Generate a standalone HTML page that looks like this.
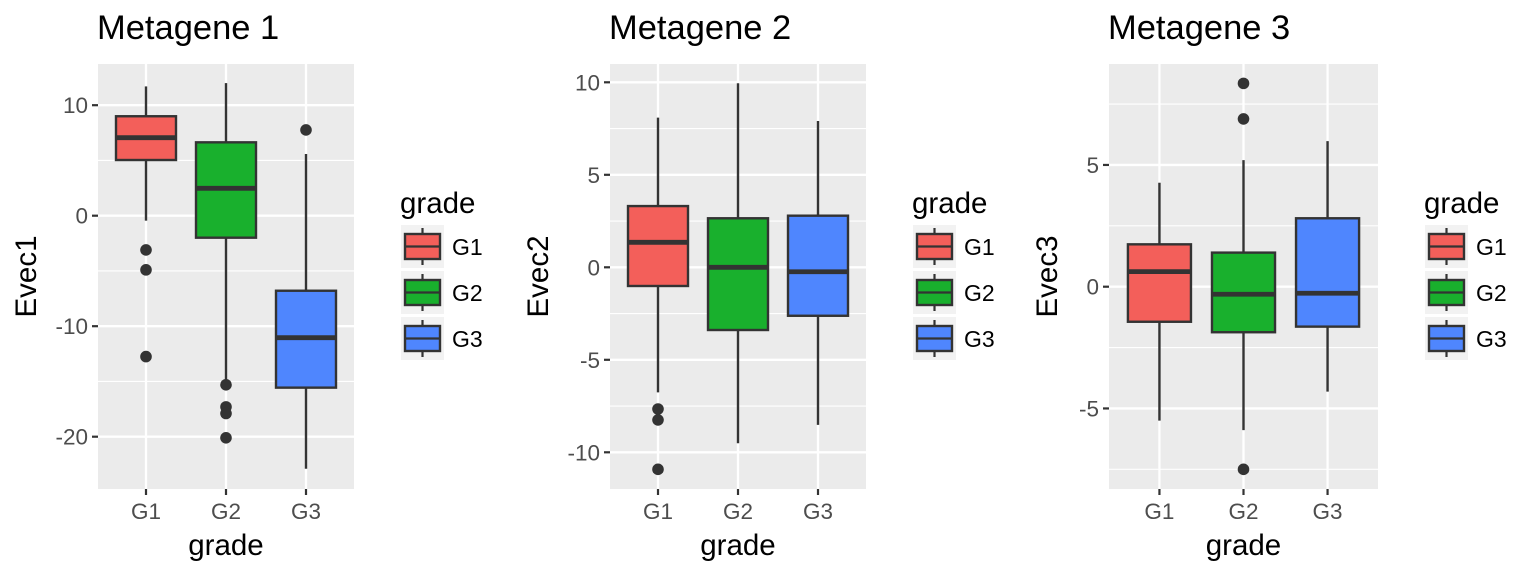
<!DOCTYPE html>
<html><head><meta charset="utf-8"><style>
html,body{margin:0;padding:0;background:#fff;}
svg{display:block;font-family:"Liberation Sans",Arial,sans-serif;}
</style></head><body>
<svg id="chart" width="1536" height="576" viewBox="0 0 1536 576" xmlns="http://www.w3.org/2000/svg"></svg>
<script>
const categories = ["G1","G2","G3"];
const boxColors = ["#f35f5a","#19b02d","#4f86fe"];
// Metagene 1: [lowWhisker, Q1, median, Q3, highWhisker]
const stats1 = [[-0.45,5.04,7.06,9.0,11.7],[-14.9,-1.99,2.48,6.64,12.0],[-22.9,-15.56,-11.04,-6.79,5.58]];
const outliers1 = [[-3.1,-4.9,-12.75],[-15.3,-17.3,-17.9,-20.1],[7.76]];
const stats2 = [[-6.76,-1.01,1.35,3.31,8.09],[-9.51,-3.39,0,2.65,9.95],[-8.52,-2.62,-0.24,2.79,7.91]];
const outliers2 = [[-7.66,-8.25,-10.92],[],[]];
const stats3 = [[-5.5,-1.44,0.62,1.74,4.27],[-5.89,-1.87,-0.31,1.4,5.2],[-4.31,-1.64,-0.27,2.81,5.98]];
const outliers3 = [[],[8.35,6.89,-7.5],[]];
const ticks1 = [10,0,-10,-20], minor1=[5,-5,-15];
const ticks2 = [10,5,0,-5,-10], minor2=[7.5,2.5,-2.5,-7.5];
const ticks3 = [5,0,-5], minor3=[7.5,2.5,-2.5,-7.5];

const NS="http://www.w3.org/2000/svg";
const svg=document.getElementById('chart');
function mk(tag,attrs,parent,txt){const e=document.createElementNS(NS,tag);for(const k in attrs)e.setAttribute(k,attrs[k]);if(txt!==undefined)e.textContent=txt;(parent||svg).appendChild(e);return e;}

function panel(cfg){
  const g=mk('g',{});
  
  
  const {x0,x1,y0,y1}=cfg;
  const ys=v=>cfg.zeroY - v*cfg.ppu;
  const step=(x1-x0)/3.2;
  const xs=i=>x0+step*(i+0.6);
  const bg=mk('rect',{x:x0,y:y0,width:x1-x0,height:y1-y0,fill:'#ebebeb'},g);
  
  
  cfg.minor.forEach(v=>{const l=mk('line',{x1:x0,x2:x1,y1:ys(v),y2:ys(v),stroke:'#fff','stroke-width':1.1},g);});
  cfg.ticks.forEach(v=>{const l=mk('line',{x1:x0,x2:x1,y1:ys(v),y2:ys(v),stroke:'#fff','stroke-width':2.3},g);
    const t=mk('line',{x1:x0-6,x2:x0,y1:ys(v),y2:ys(v),stroke:'#333','stroke-width':2.2},g);
    const tl=mk('text',{x:x0-10,y:ys(v)+8,'text-anchor':'end','font-size':22.5,fill:'#4d4d4d'},g,String(v));});
  categories.forEach((c,i)=>{const l=mk('line',{x1:xs(i),x2:xs(i),y1:y0,y2:y1,stroke:'#fff','stroke-width':2.3},g);
    const t=mk('line',{x1:xs(i),x2:xs(i),y1:y1,y2:y1+6,stroke:'#333','stroke-width':2.2},g);
    const tl=mk('text',{x:xs(i),y:y1+30,'text-anchor':'middle','font-size':22.5,fill:'#4d4d4d'},g,c);});
  const hw=step*0.375;
  cfg.stats.forEach((s,i)=>{
    const bx=mk('g',{},g);
    const cx=xs(i);
    mk('line',{x1:cx,x2:cx,y1:ys(s[4]),y2:ys(s[3]),stroke:'#333','stroke-width':2.4},bx);
    mk('line',{x1:cx,x2:cx,y1:ys(s[1]),y2:ys(s[0]),stroke:'#333','stroke-width':2.4},bx);
    mk('rect',{x:cx-hw,y:ys(s[3]),width:2*hw,height:ys(s[1])-ys(s[3]),fill:boxColors[i],stroke:'#333','stroke-width':2.4},bx);
    mk('line',{x1:cx-hw,x2:cx+hw,y1:ys(s[2]),y2:ys(s[2]),stroke:'#333','stroke-width':4.8},bx);
    cfg.out[i].forEach(v=>{const p=mk('circle',{cx:cx,cy:ys(v),r:5.8,fill:'#333'},bx);});
  });
  const tt=mk('text',{x:x0-1,y:39,'font-size':34.5,fill:'#000'},g,cfg.title);
  const yt=mk('text',{x:0,y:0,'font-size':29.5,fill:'#000','text-anchor':'middle',transform:`translate(${cfg.yTitleX},${(y0+y1)/2}) rotate(-90)`},g,cfg.ylab);
  const xt=mk('text',{x:(x0+x1)/2,y:555,'font-size':29.5,fill:'#000','text-anchor':'middle'},g,'grade');
  const lg=mk('g',{},g);
  const lx=cfg.legX;
  const lt=mk('text',{x:lx-1,y:213,'font-size':29.5,fill:'#000'},lg,'grade');
  categories.forEach((c,i)=>{
    const ky=225+i*46;
    const e=mk('g',{},lg);
    mk('rect',{x:lx,y:ky,width:43,height:43,fill:'#f2f2f2'},e);
    mk('line',{x1:lx+21.5,x2:lx+21.5,y1:ky+3,y2:ky+40,stroke:'#333','stroke-width':2.2},e);
    mk('rect',{x:lx+4,y:ky+9,width:35,height:25,fill:boxColors[i],stroke:'#333','stroke-width':2.4},e);
    mk('line',{x1:lx+4,x2:lx+39,y1:ky+21.5,y2:ky+21.5,stroke:'#333','stroke-width':2.2},e);
    mk('text',{x:lx+51,y:ky+30,'font-size':23,fill:'#000'},e,c);
  });
}
panel({name:'panel-metagene-1',title:'Metagene 1',ylab:'Evec1',x0:98,x1:354,y0:64,y1:489,zeroY:215.7,ppu:11.05,ticks:ticks1,minor:minor1,stats:stats1,out:outliers1,legX:401,yTitleX:36});
panel({name:'panel-metagene-2',title:'Metagene 2',ylab:'Evec2',x0:610,x1:866,y0:64,y1:489,zeroY:267.3,ppu:18.5,ticks:ticks2,minor:minor2,stats:stats2,out:outliers2,legX:913,yTitleX:548});
panel({name:'panel-metagene-3',title:'Metagene 3',ylab:'Evec3',x0:1109,x1:1378,y0:64,y1:489,zeroY:286.7,ppu:24.35,ticks:ticks3,minor:minor3,stats:stats3,out:outliers3,legX:1425,yTitleX:1057});
</script>
</body></html>
